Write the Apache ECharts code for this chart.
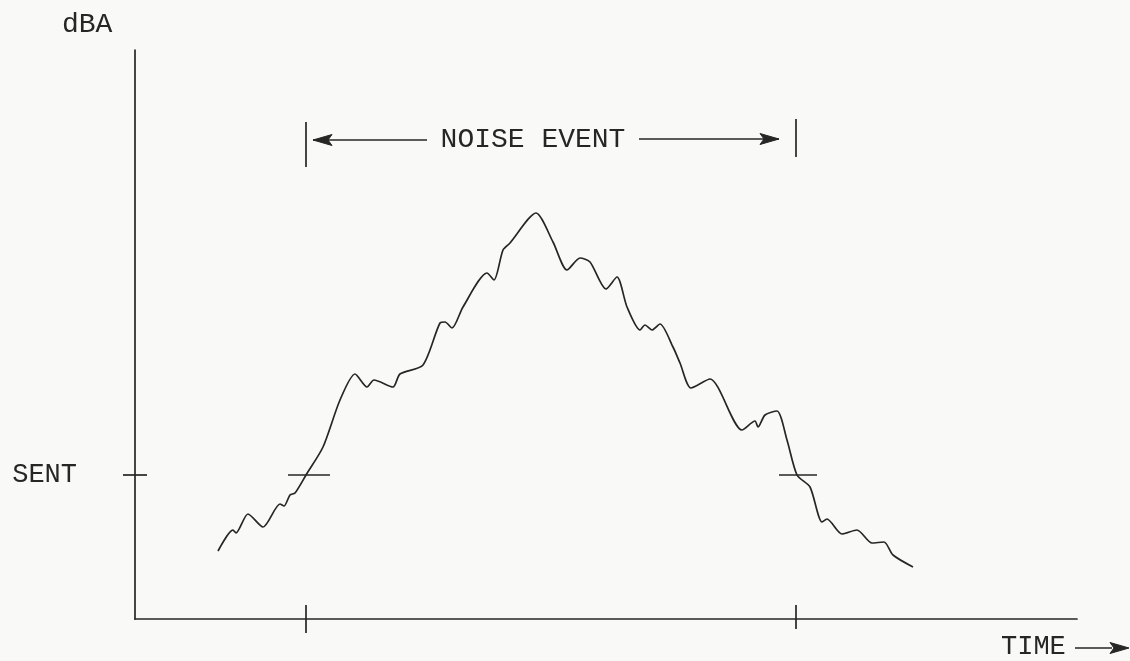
<!DOCTYPE html>
<html>
<head>
<meta charset="utf-8">
<title>Noise event</title>
<script src="https://cdn.jsdelivr.net/npm/echarts@6/dist/echarts.min.js"></script>
<style>
  html, body { margin: 0; padding: 0; background: #f9f9f8; }
  #chart { width: 1130px; height: 661px; }
</style>
</head>
<body>
<div id="chart"></div>
<script>
// Sound level trace during a single noise event (time vs. dBA, arbitrary units)
const timeVals = [83, 98, 101, 113, 128, 145, 149, 155, 160, 171, 188, 205, 220, 232, 239, 258, 265,
  288, 305, 310, 317, 328, 352, 359, 368, 375, 401, 418, 432, 445, 455, 471, 482, 492, 505, 510,
  517, 525, 538, 545, 556, 575, 607, 620, 623, 630, 642, 652, 662, 675, 687, 692, 707, 722, 737,
  749, 758, 778];
const levelVals = [68, 89, 86, 105, 92, 115, 113, 124, 126, 144, 172, 219, 245, 232, 239, 232, 245,
  254, 296, 297, 291, 312, 346, 339, 369, 376, 406, 377, 349, 361, 357, 330, 342, 312, 289, 294,
  289, 295, 272, 256, 231, 240, 189, 198, 192, 204, 208, 179, 144, 132, 97, 100, 85, 89, 76,
  77, 64, 52];

// Threshold level and the start / end of the event where the trace crosses it
const SENT_LEVEL = 144;
const EVENT_START = 171;
const EVENT_END = 661;
const TIME_MAX = 942;
const LEVEL_MAX = 569;

const INK = '#262626';
const FONT = '"Liberation Mono", "DejaVu Sans Mono", monospace';

// Annotation marks in data coordinates
const marks = [
  // SENT tick across the level axis
  { x1: -12, y1: SENT_LEVEL, x2: 12, y2: SENT_LEVEL },
  // crossings of the threshold
  { x1: EVENT_START - 18, y1: SENT_LEVEL, x2: EVENT_START + 24, y2: SENT_LEVEL },
  { x1: EVENT_END - 17, y1: SENT_LEVEL, x2: EVENT_END + 21, y2: SENT_LEVEL },
  // ticks on the time axis
  { x1: EVENT_START, y1: 14, x2: EVENT_START, y2: -14 },
  { x1: EVENT_END, y1: 14, x2: EVENT_END, y2: -10 },
  // bracket of the event duration
  { x1: EVENT_START, y1: 452, x2: EVENT_START, y2: 497 },
  { x1: EVENT_END, y1: 462, x2: EVENT_END, y2: 500 },
  { x1: 292, y1: 479, x2: EVENT_START + 7, y2: 479, head: true },
  { x1: 504, y1: 480, x2: EVENT_END - 17, y2: 480, head: true }
];

const chart = echarts.init(document.getElementById('chart'), null, { renderer: 'canvas' });

function arrowHead(tip, from) {
  const dx = tip[0] - from[0], dy = tip[1] - from[1];
  const len = Math.sqrt(dx * dx + dy * dy) || 1;
  const ux = dx / len, uy = dy / len;
  const nx = -uy, ny = ux;
  const L = 19, W = 5.5;
  const bx = tip[0] - ux * L, by = tip[1] - uy * L;
  const mx = tip[0] - ux * (L - 4), my = tip[1] - uy * (L - 4);
  return {
    type: 'polygon',
    shape: { points: [[tip[0], tip[1]], [bx + nx * W, by + ny * W], [mx, my], [bx - nx * W, by - ny * W]] },
    style: { fill: INK, stroke: INK, lineWidth: 1 }
  };
}

chart.setOption({
  backgroundColor: '#f9f9f8',
  animation: false,
  grid: { left: 135, top: 50, width: TIME_MAX, height: LEVEL_MAX },
  xAxis: {
    type: 'value', min: 0, max: TIME_MAX,
    axisLine: { show: true, lineStyle: { color: INK, width: 1.7 } },
    axisTick: { show: false }, axisLabel: { show: false }, splitLine: { show: false }
  },
  yAxis: {
    type: 'value', min: 0, max: LEVEL_MAX,
    axisLine: { show: true, lineStyle: { color: INK, width: 1.7 } },
    axisTick: { show: false }, axisLabel: { show: false }, splitLine: { show: false }
  },
  title: {
    text: 'dBA', left: 57, top: 6,
    textStyle: { fontFamily: FONT, fontSize: 28, fontWeight: 'normal', color: INK }
  },
  graphic: [
    {
      type: 'text', left: 1001, top: 633,
      style: { text: 'TIME', font: '27px ' + FONT, fill: INK }
    },
    { type: 'line', shape: { x1: 1075, y1: 648, x2: 1112, y2: 648 }, style: { stroke: INK, lineWidth: 1.6 } },
    {
      type: 'polygon',
      shape: { points: [[1129, 648], [1110, 642.5], [1114, 648], [1110, 653.5]] },
      style: { fill: INK, stroke: INK, lineWidth: 1 }
    }
  ],
  series: [
    {
      name: 'level',
      type: 'line',
      data: timeVals.map((t, i) => [t, levelVals[i]]),
      showSymbol: false,
      smooth: 0.25,
      lineStyle: { color: INK, width: 1.7 },
      z: 3
    },
    {
      name: 'annotations',
      type: 'custom',
      clip: false,
      data: marks.map((m, i) => [i]),
      renderItem: function (params, api) {
        const m = marks[params.dataIndex];
        const p1 = api.coord([m.x1, m.y1]);
        const p2 = api.coord([m.x2, m.y2]);
        const children = [{
          type: 'line',
          shape: { x1: p1[0], y1: p1[1], x2: p2[0], y2: p2[1] },
          style: { stroke: INK, lineWidth: 1.7 }
        }];
        if (m.head) children.push(arrowHead(p2, p1));
        return { type: 'group', children: children };
      },
      z: 4
    },
    {
      name: 'labels',
      type: 'custom',
      clip: false,
      data: [[0]],
      renderItem: function (params, api) {
        const ev = api.coord([(292 + 504) / 2, 479]);
        const sent = api.coord([0, SENT_LEVEL]);
        return {
          type: 'group',
          children: [
            {
              type: 'text',
              x: ev[0], y: ev[1],
              style: { text: 'NOISE EVENT', font: '28px ' + FONT, fill: INK, align: 'center', verticalAlign: 'middle' }
            },
            {
              type: 'text',
              x: sent[0] - 58, y: sent[1],
              style: { text: 'SENT', font: '27px ' + FONT, fill: INK, align: 'right', verticalAlign: 'middle' }
            }
          ]
        };
      },
      z: 4
    }
  ]
});
</script>
</body>
</html>
